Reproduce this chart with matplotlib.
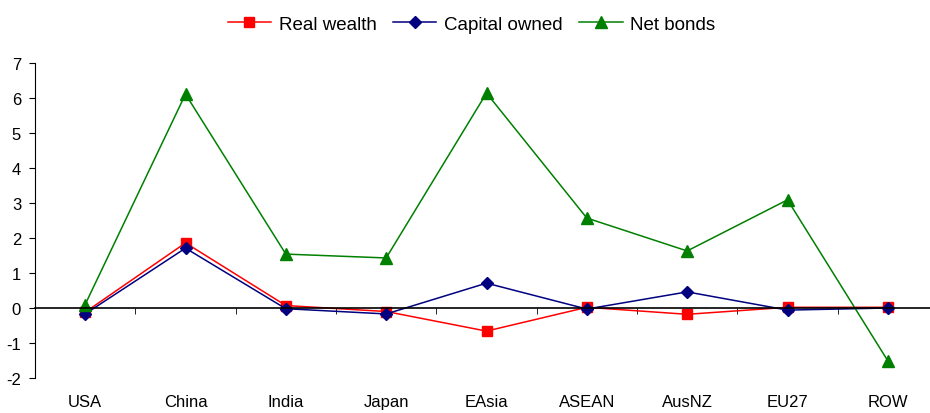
import numpy as np
import matplotlib
matplotlib.use("Agg")
import matplotlib.pyplot as plt

plt.rcParams['font.family'] = ['Liberation Sans', 'DejaVu Sans']
plt.rcParams['axes.unicode_minus'] = False

regions = ['USA', 'China', 'India', 'Japan', 'EAsia', 'ASEAN', 'AusNZ', 'EU27', 'ROW']
real_wealth = [-0.12, 1.86, 0.07, -0.10, -0.66, 0.02, -0.18, 0.02, 0.02]
capital_owned = [-0.17, 1.71, -0.02, -0.17, 0.71, -0.03, 0.46, -0.06, 0.00]
net_bonds = [0.10, 6.11, 1.54, 1.43, 6.14, 2.57, 1.63, 3.09, -1.51]

fig = plt.figure(figsize=(9.3, 4.14), dpi=100)
ax = fig.add_axes([35/930, 35/414, 903/930, 315/414])

x = np.arange(len(regions))
ax.plot(x, real_wealth, '-s', color='#ff0000', markersize=7.5, linewidth=1.1, label='Real wealth')
ax.plot(x, capital_owned, '-D', color='#000080', markersize=6, linewidth=1.1, label='Capital owned')
ax.plot(x, net_bonds, '-^', color='#008000', markersize=8, linewidth=1.1, label='Net bonds')

ax.set_xlim(-0.5, 8.5)
ax.set_ylim(-2, 7)
ax.set_yticks(range(-2, 8))
ax.tick_params(axis='y', direction='out', length=4, labelsize=12, pad=6)

ax.spines['top'].set_visible(False)
ax.spines['right'].set_visible(False)
ax.spines['bottom'].set_position(('data', 0))
ax.spines['bottom'].set_linewidth(1.2)
ax.set_xticks(x)
ax.set_xticklabels(regions)
ax.set_xticks(x[:-1] + 0.5, minor=True)
ax.tick_params(axis='x', which='major', length=0, labelsize=12, pad=62)
ax.tick_params(axis='x', which='minor', direction='out', length=4)

fig.legend(loc='upper center', bbox_to_anchor=(0.507, 1.0), ncol=3, frameon=False,
           fontsize=13.5, handlelength=2.3, handletextpad=0.4, columnspacing=0.9)

fig.savefig('out.png', dpi=100)
